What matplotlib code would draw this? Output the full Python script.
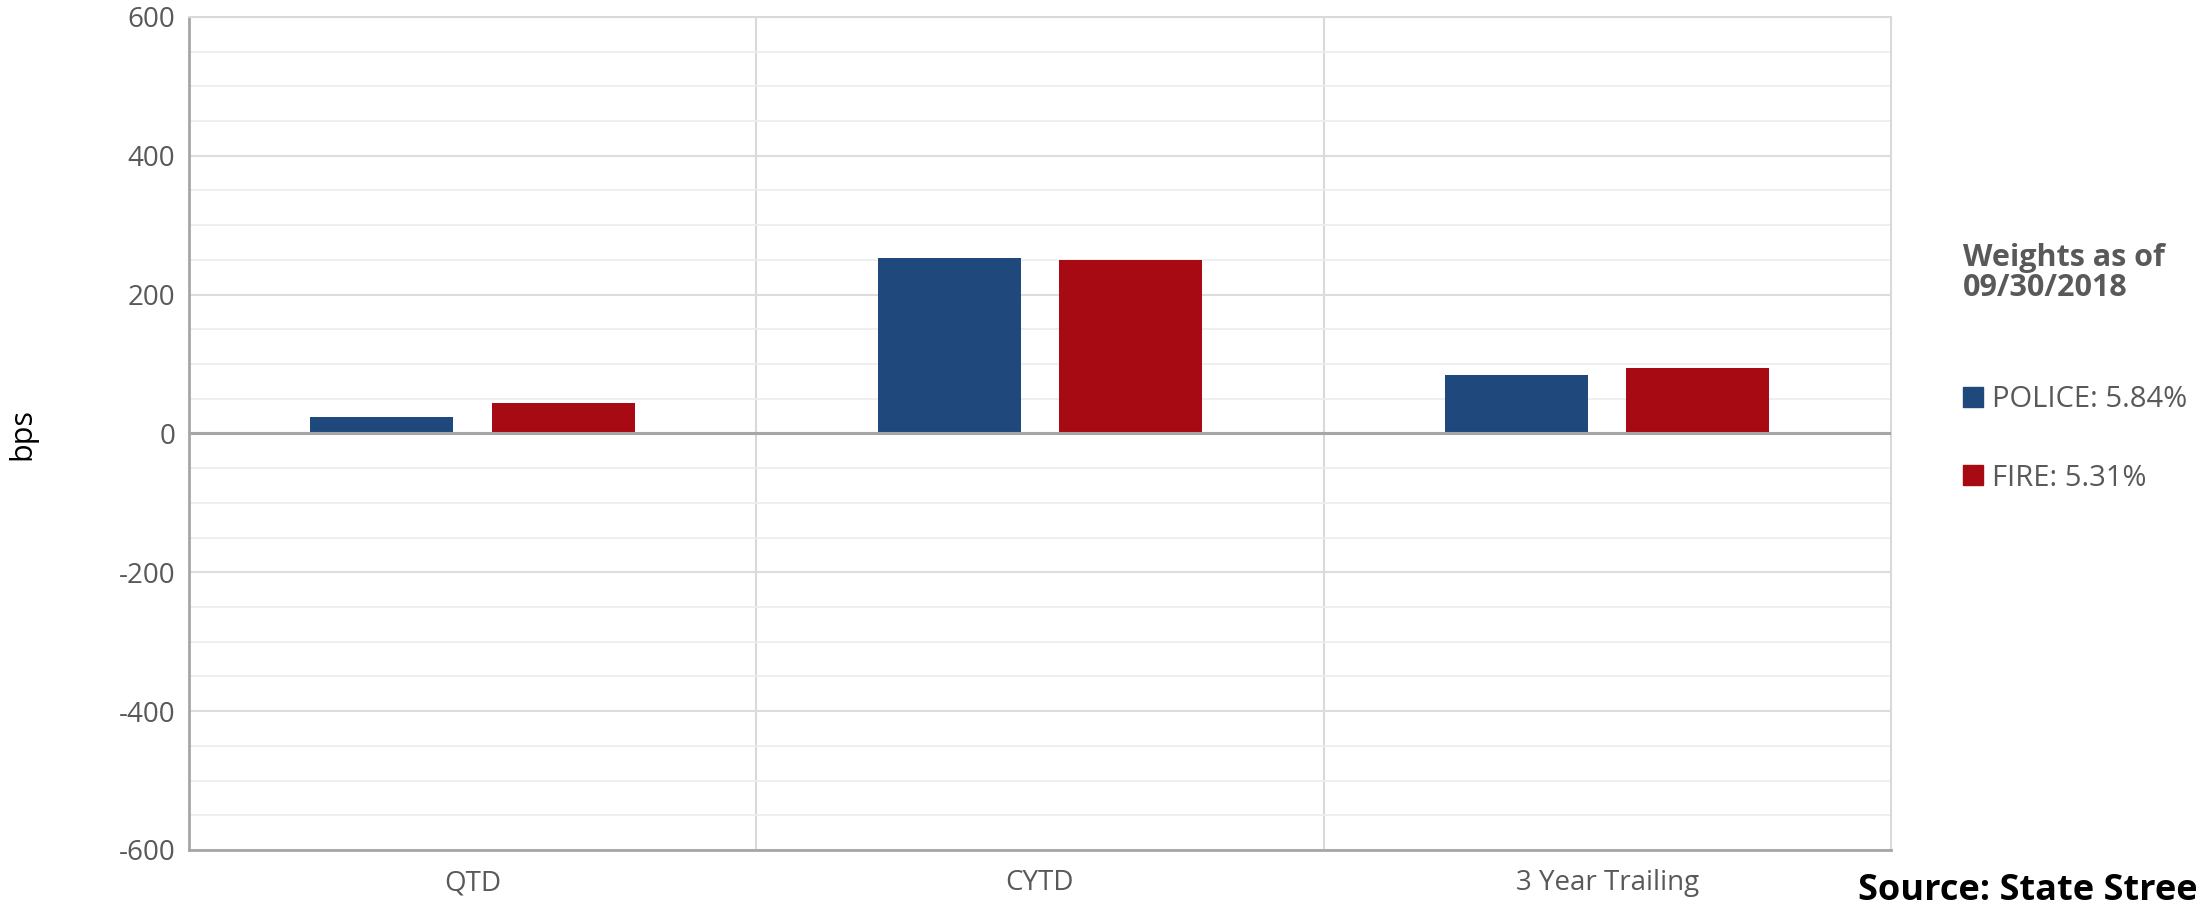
import numpy as np
import matplotlib
matplotlib.use('Agg')
import matplotlib.pyplot as plt
from matplotlib.patches import Patch
from matplotlib.ticker import MultipleLocator

# attribution by period, in bps
periods = ['QTD', 'CYTD', '3 Year Trailing']
police = [24, 253, 84]
fire = [44, 250, 94]
series_labels = ['POLICE: 5.84%', 'FIRE: 5.31%']
y_ticks = [-600, -400, -200, 0, 200, 400, 600]

blue = '#1f497d'
red = '#a80a14'
gray_txt = '#595959'

plt.rcParams['font.family'] = ['Open Sans', 'DejaVu Sans']
plt.rcParams['axes.unicode_minus'] = False

fig = plt.figure(figsize=(21.96, 9.19), dpi=100)
ax = fig.add_axes([0.0861, 0.0751, 0.7749, 0.9066])

x = np.arange(len(periods))
w = 0.252
off = 0.16
ax.bar(x - off, police, w, color=blue, zorder=3)
ax.bar(x + off, fire, w, color=red, zorder=3)

ax.set_xlim(-0.5, 2.5)
ax.set_ylim(-600, 600)
ax.set_yticks(y_ticks)
ax.yaxis.set_minor_locator(MultipleLocator(50))
ax.grid(axis='y', which='minor', color='#eeeeee', lw=1.3, zorder=0)
ax.grid(axis='y', which='major', color='#dcdcdc', lw=1.5, zorder=0)
for b in [0.5, 1.5]:
    ax.axvline(b, color='#d9d9d9', lw=1.5, zorder=0)
ax.axhline(0, color='#a6a6a6', lw=2.2, zorder=4)

ax.set_xticks(x)
ax.set_xticklabels(periods)
ax.tick_params(axis='both', which='both', length=0, labelsize=20, colors=gray_txt)
ax.tick_params(axis='x', pad=14)
ax.tick_params(axis='y', pad=10)
for s in ['top', 'right']:
    ax.spines[s].set_color('#d9d9d9')
    ax.spines[s].set_linewidth(1.5)
for s in ['left', 'bottom']:
    ax.spines[s].set_color('#a6a6a6')
    ax.spines[s].set_linewidth(2)

fig.text(0.010, 0.528, 'bps', rotation=90, fontsize=22, color='black',
         ha='center', va='center')

fig.text(0.894, 0.703, 'Weights as of\n09/30/2018', fontsize=22,
         fontweight='bold', color=gray_txt, ha='left', va='center',
         linespacing=1.0)

handles = [Patch(color=blue), Patch(color=red)]
fig.legend(handles, series_labels, loc='center left',
           bbox_to_anchor=(0.894, 0.5225), frameon=False, fontsize=21,
           labelcolor=gray_txt, handlelength=0.68, handleheight=0.68,
           handletextpad=0.3, labelspacing=1.7, borderaxespad=0, borderpad=0)

fig.text(0.846, 0.0207, 'Source: State Street', fontsize=26,
         fontweight='bold', color='black', ha='left', va='baseline')

fig.savefig('out.png', dpi=100)
